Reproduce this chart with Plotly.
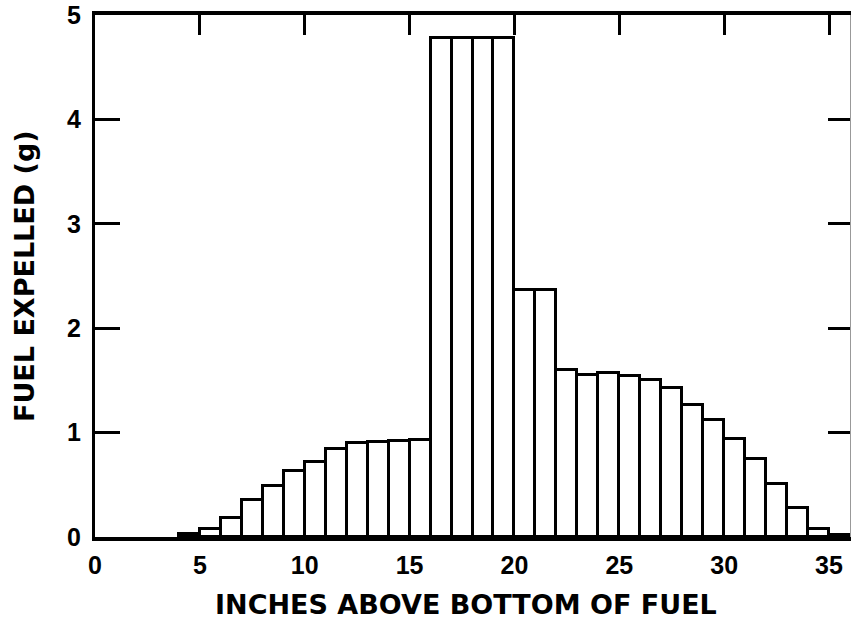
import plotly.graph_objects as go

# Bin left edges (inches) and fuel expelled (g) per 1-inch bin
bin_start = list(range(4, 36))
fuel_g = [0.03, 0.08, 0.18, 0.35, 0.49, 0.63, 0.72, 0.84, 0.90, 0.91, 0.915, 0.93,
          4.78, 4.78, 4.78, 4.78,
          2.37, 2.37,
          1.60, 1.55, 1.57, 1.54, 1.50, 1.43, 1.26, 1.12, 0.94, 0.75, 0.51, 0.28, 0.08, 0.02]
x_ticks = [0, 5, 10, 15, 20, 25, 30, 35]
y_ticks = [0, 1, 2, 3, 4, 5]

x_centers = [b + 0.5 for b in bin_start]

fig = go.Figure()
fig.add_trace(go.Bar(
    x=x_centers, y=fuel_g, width=1,
    marker=dict(color="white", line=dict(color="black", width=3)),
    showlegend=False, hoverinfo="skip",
))
# invisible helper trace for the top / right tick axes
fig.add_trace(go.Scatter(x=[None], y=[None], xaxis="x2", yaxis="y2",
                         showlegend=False, hoverinfo="skip"))

tick_font = dict(family="Liberation Sans", size=25, color="black", weight="bold")
title_font = dict(family="DejaVu Sans", size=27, color="black", weight="bold")

fig.update_layout(
    width=851, height=622,
    margin=dict(l=95, r=1, t=15, b=85),
    paper_bgcolor="white", plot_bgcolor="white",
    bargap=0,
    xaxis=dict(
        range=[0, 36], tickvals=x_ticks, ticktext=[str(v) for v in x_ticks],
        ticks="", showline=True, linewidth=4, linecolor="black",
        showgrid=False, zeroline=False, tickfont=tick_font, automargin=False,
        ticklabelstandoff=3,
    ),
    xaxis2=dict(
        overlaying="x", side="top", matches="x", range=[0, 36], tickvals=x_ticks,
        ticks="inside", ticklen=20, tickwidth=3, tickcolor="black",
        showline=True, linewidth=4, linecolor="black",
        showticklabels=False, showgrid=False, zeroline=False, automargin=False,
    ),
    yaxis=dict(
        range=[0, 5], tickvals=y_ticks, ticktext=[str(v) for v in y_ticks],
        ticks="inside", ticklen=25, tickwidth=3, tickcolor="black",
        showline=True, linewidth=3, linecolor="black",
        showgrid=False, zeroline=False, tickfont=tick_font, automargin=False,
        ticklabelstandoff=6,
    ),
    yaxis2=dict(
        overlaying="y", side="right", matches="y", range=[0, 5], tickvals=y_ticks,
        ticks="inside", ticklen=22, tickwidth=3, tickcolor="black",
        showline=True, linewidth=1, linecolor="#999999",
        showticklabels=False, showgrid=False, zeroline=False, automargin=False,
    ),
    annotations=[
        dict(text="INCHES ABOVE BOTTOM OF FUEL", xref="paper", yref="paper",
             x=0.491, y=0, xanchor="center", yanchor="middle", yshift=-67,
             showarrow=False, font=title_font),
        dict(text="FUEL EXPELLED (g)", xref="paper", yref="paper",
             x=0, y=0.5, xanchor="center", yanchor="middle", xshift=-71,
             textangle=-90, showarrow=False, font=title_font),
    ],
)

fig.write_html(
    "out.html",
    config={"displayModeBar": False},
    post_script="document.body.style.margin='0';document.body.style.overflow='hidden';",
)
